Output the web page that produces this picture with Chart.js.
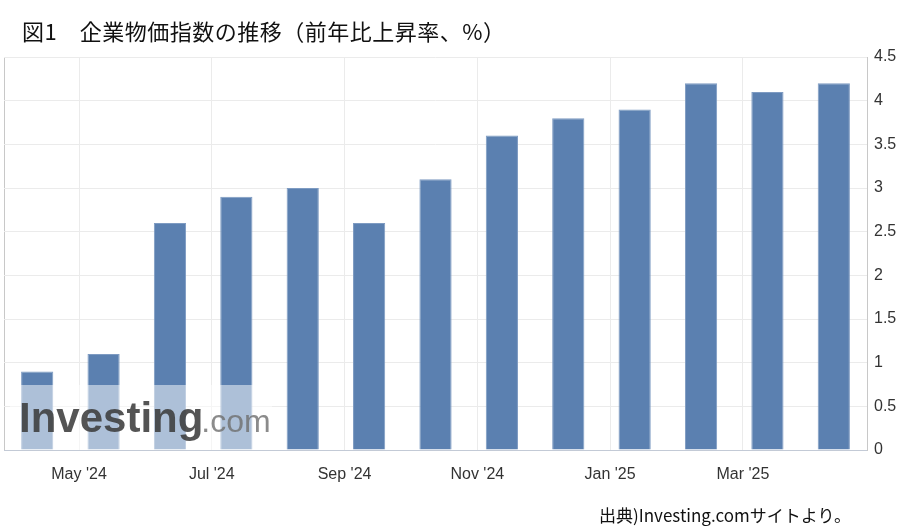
<!DOCTYPE html>
<html>
<head>
<meta charset="utf-8">
<script src="https://cdn.jsdelivr.net/npm/chart.js@4.4.0/dist/chart.umd.min.js"></script>
<style>
  html, body { margin: 0; padding: 0; background: #fff; }
  #wrap { position: relative; width: 912px; height: 527px; overflow: hidden; }
  #title {
    position: absolute; left: 22px; top: 14px;
    font-family: "Noto Sans CJK JP", sans-serif; font-size: 22px; color: #111;
    white-space: nowrap; letter-spacing: 0.5px;
  }
  #source {
    position: absolute; left: 599px; top: 502px;
    font-family: "Noto Sans CJK JP", sans-serif; font-size: 17px; color: #111;
    white-space: nowrap;
  }
  #c { position: absolute; left: 0; top: 0; }
</style>
</head>
<body>
<div id="wrap">
  <canvas id="c" width="912" height="527"></canvas>
  <div id="title">図1　企業物価指数の推移（前年比上昇率、%）</div>
  <div id="source">出典)Investing.comサイトより。</div>
</div>
<script>
// release months, Apr '24 .. Apr '25
const months = ["Apr '24", "May '24", "Jun '24", "Jul '24", "Aug '24", "Sep '24", "Oct '24",
                "Nov '24", "Dec '24", "Jan '25", "Feb '25", "Mar '25", "Apr '25"];
const values = [0.9, 1.1, 2.6, 2.9, 3.0, 2.6, 3.1, 3.6, 3.8, 3.9, 4.2, 4.1, 4.2];
const tickLabels = ["May '24", "Jul '24", "Sep '24", "Nov '24", "Jan '25", "Mar '25"];
const yTicks = [0, 0.5, 1, 1.5, 2, 2.5, 3, 3.5, 4, 4.5];

// bars sit around the 12th (release day), ticks at month start
const tickPos = tickLabels.map(l => months.indexOf(l) - 0.37);

const watermark = {
  id: 'watermark',
  afterDatasetsDraw(chart) {
    const ctx = chart.ctx, a = chart.chartArea;
    const y0 = chart.scales.y.getPixelForValue(0);
    ctx.save();
    ctx.fillStyle = 'rgba(255,255,255,0.5)';
    ctx.fillRect(a.left + 6, y0 - 65, 262, 65);
    ctx.textBaseline = 'alphabetic';
    ctx.font = 'bold 42px "Liberation Sans", Arial, sans-serif';
    ctx.fillStyle = 'rgba(60,60,60,0.88)';
    const x = a.left + 15, y = y0 - 18;
    ctx.fillText('Investing', x, y);
    const w = ctx.measureText('Investing').width;
    ctx.font = '32px "Liberation Sans", Arial, sans-serif';
    ctx.fillStyle = 'rgba(110,110,110,0.8)';
    ctx.fillText('.com', x + w - 2, y);
    ctx.restore();
  }
};

new Chart(document.getElementById('c').getContext('2d'), {
  type: 'bar',
  data: {
    labels: months,
    datasets: [{
      data: values.map((v, i) => ({ x: i, y: v })),
      backgroundColor: '#5b80b0',
      borderColor: '#7e9bc2',
      borderWidth: 1,
      barPercentage: 0.97,
      categoryPercentage: 0.5
    }]
  },
  options: {
    responsive: false,
    animation: false,
    layout: { padding: { top: 57, left: 4, right: 0, bottom: 0 } },
    plugins: { legend: { display: false }, tooltip: { enabled: false } },
    scales: {
      x: {
        type: 'linear',
        min: -0.5,
        max: months.length - 0.5,
        offset: false,
        afterBuildTicks(s) { s.ticks = [-0.5].concat(tickPos).map(v => ({ value: v })); },
        afterFit(s) { s.height = 77; s.paddingLeft = 0; s.paddingRight = 0; },
        grid: {
          offset: false,
          drawTicks: false,
          color: ctx => ctx.tick && ctx.tick.value === -0.5 ? '#c8c8c8' : '#ebebeb'
        },
        border: { color: '#c3cad6' },
        ticks: {
          padding: 15,
          color: '#333',
          font: { family: 'Liberation Sans, Arial, sans-serif', size: 16 },
          callback: (v) => {
            const k = tickPos.indexOf(v);
            return k >= 0 ? tickLabels[k] : '';
          }
        }
      },
      y: {
        position: 'right',
        min: 0,
        max: 4.5,
        afterBuildTicks(s) { s.ticks = yTicks.map(v => ({ value: v })); },
        afterFit(s) { s.width = 45; s.paddingTop = 0; s.paddingBottom = 0; },
        grid: { drawTicks: false, color: '#ebebeb' },
        border: { color: '#c8c8c8' },
        ticks: {
          padding: 7,
          color: '#333',
          font: { family: 'Liberation Sans, Arial, sans-serif', size: 16 },
          callback: v => String(v)
        }
      }
    }
  },
  plugins: [watermark]
});
</script>
</body>
</html>
